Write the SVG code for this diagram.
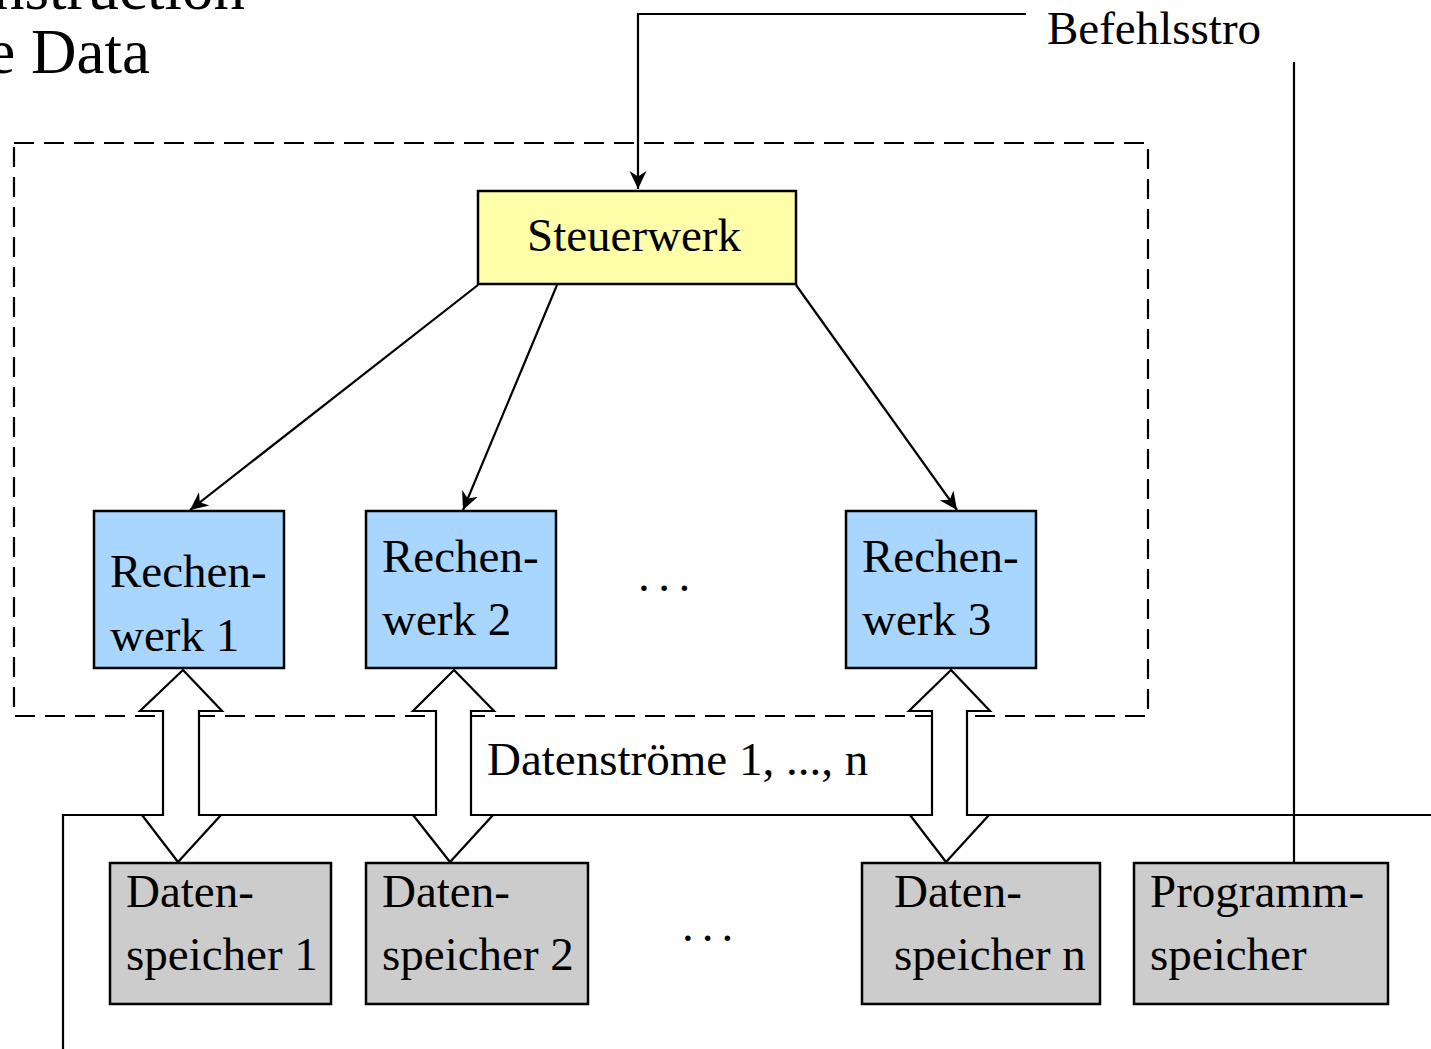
<svg xmlns="http://www.w3.org/2000/svg" width="1431" height="1049" viewBox="0 0 1431 1049">
  <style>
    text { font-family: "Liberation Serif", "Times New Roman", serif; fill: #000; }
    .lbl { font-size: 47px; }
    .title { font-size: 63px; }
    .box { stroke: #000; stroke-width: 2.5; }
    .ctrl { fill: #ffffaa; }
    .alu { fill: #a8d6ff; }
    .mem { fill: #cccccc; }
    .wire { fill: none; stroke: #000; stroke-width: 2.2; }
    .dash { fill: none; stroke: #000; stroke-width: 2.2; stroke-dasharray: 20 10; }
    .bus { fill: #fff; stroke: #000; stroke-width: 2.2; stroke-linejoin: miter; }
  </style>
  <defs>
    <marker id="head" markerUnits="userSpaceOnUse" markerWidth="20" markerHeight="20" viewBox="-18 -9 20 18" refX="0" refY="0" orient="auto">
      <path d="M0,0 L-18,-8.5 L-12.5,0 L-18,8.5 Z" fill="#000"/>
    </marker>
  </defs>

  <rect width="1431" height="1049" fill="#fff"/>

  <!-- heading, partly outside the page -->
  <text class="title" x="245" y="9" text-anchor="end">nstruction</text>
  <text class="title" x="150" y="73" text-anchor="end">e Data</text>

  <!-- processor boundary -->
  <rect class="dash" x="14" y="143" width="1134" height="573"/>

  <g id="connectors">
    <!-- instruction stream into the control unit -->
    <polyline class="wire" points="1026,14 638,14 638,189" marker-end="url(#head)"/>
    <text class="lbl" x="1047" y="44">Befehlsstro</text>
    <line class="wire" x1="1294" y1="62" x2="1294" y2="863"/>
    <!-- control lines to the arithmetic units -->
    <line class="wire" x1="478" y1="285" x2="190" y2="510" marker-end="url(#head)"/>
    <line class="wire" x1="557" y1="285" x2="463" y2="510" marker-end="url(#head)"/>
    <line class="wire" x1="796" y1="285" x2="957" y2="510" marker-end="url(#head)"/>
    <!-- data bus -->
    <polyline class="wire" points="63,1049 63,815 1431,815"/>
    <!-- data streams (double arrows) -->
    <polygon class="bus" points="183,670 222,711 199,711 199,815 221,815 178,862 142,815 163,815 163,711 140,711"/>
    <polygon class="bus" points="454,670 494,711 471,711 471,815 493,815 450,862 413,815 436,815 436,711 413,711"/>
    <polygon class="bus" points="951,670 990,711 967,711 967,815 989,815 946,862 910,815 932,815 932,711 909,711"/>
    <text class="lbl" x="487" y="775">Datenströme 1, ..., n</text>
  </g>

  <g id="steuerwerk">
    <rect class="box ctrl" x="478" y="191" width="318" height="93"/>
    <text class="lbl" x="527" y="251">Steuerwerk</text>
  </g>

  <g id="rechenwerk1">
    <rect class="box alu" x="94" y="511" width="190" height="157"/>
    <text class="lbl" x="110" y="587">Rechen-</text>
    <text class="lbl" x="110" y="651">werk 1</text>
  </g>
  <g id="rechenwerk2">
    <rect class="box alu" x="366" y="511" width="190" height="157"/>
    <text class="lbl" x="382" y="572">Rechen-</text>
    <text class="lbl" x="382" y="635">werk 2</text>
  </g>
  <g id="rechenwerk3">
    <rect class="box alu" x="846" y="511" width="190" height="157"/>
    <text class="lbl" x="862" y="572">Rechen-</text>
    <text class="lbl" x="862" y="635">werk 3</text>
  </g>
  <text class="lbl" x="638" y="591" letter-spacing="8.5">...</text>

  <g id="datenspeicher1">
    <rect class="box mem" x="110" y="863" width="221" height="141"/>
    <text class="lbl" x="126" y="907">Daten-</text>
    <text class="lbl" x="126" y="970">speicher 1</text>
  </g>
  <g id="datenspeicher2">
    <rect class="box mem" x="366" y="863" width="222" height="141"/>
    <text class="lbl" x="382" y="907">Daten-</text>
    <text class="lbl" x="382" y="970">speicher 2</text>
  </g>
  <text class="lbl" x="682" y="941" letter-spacing="8">...</text>
  <g id="datenspeichern">
    <rect class="box mem" x="862" y="863" width="238" height="141"/>
    <text class="lbl" x="894" y="907">Daten-</text>
    <text class="lbl" x="894" y="970">speicher n</text>
  </g>
  <g id="programmspeicher">
    <rect class="box mem" x="1134" y="863" width="254" height="141"/>
    <text class="lbl" x="1150" y="907">Programm-</text>
    <text class="lbl" x="1150" y="970">speicher</text>
  </g>
</svg>
